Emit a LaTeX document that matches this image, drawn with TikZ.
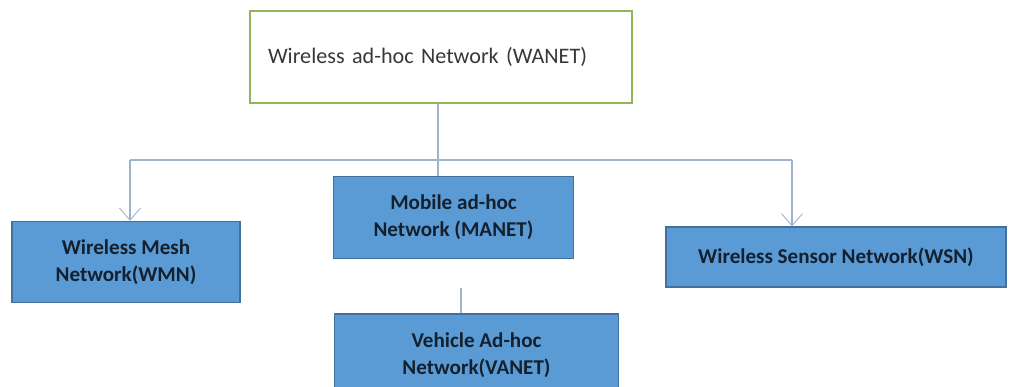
\documentclass[tikz,border=0pt]{standalone}
\usepackage{fontspec}
\setmainfont{Carlito}
\usepackage{tikz}
\usetikzlibrary{arrows.meta,positioning}

\definecolor{rootline}{HTML}{92B55A}
\definecolor{leaffill}{HTML}{5B9BD5}
\definecolor{leafline}{HTML}{41719C}
\definecolor{leaftext}{HTML}{14202E}
\definecolor{linkline}{HTML}{9FB3CC}

\begin{document}
\begin{tikzpicture}[
  x=0.02cm, y=-0.02cm,
  font=\fontsize{12}{15.5}\selectfont,
  >={Straight Barb[length=2.4mm, width=4.2mm, line width=0.5pt]},
  % top box: plain white with green frame
  root/.style={
    draw=rootline, line width=1pt, fill=white,
    text=black!78, font=\fontsize{12.6}{15.5}\selectfont,
    minimum width=7.64cm, minimum height=1.84cm,
    text width=6.92cm, align=left,
    inner sep=0pt
  },
  % blue boxes underneath
  leaf/.style={
    draw=leafline, line width=0.8pt, fill=leaffill,
    text=leaftext, font=\fontsize{12}{15.5}\selectfont\bfseries,
    align=center, inner sep=2pt
  },
  link/.style={draw=linkline, line width=0.7pt}
]

\useasboundingbox (0,0) rectangle (1010,386);

% Root
\node[root] (wanet) at (441,57) {Wireless ad-hoc Network (WANET)};

% Second row
\node[leaf, minimum width=4.8cm, minimum height=1.64cm] (manet) at (453.5,217.5)
  {Mobile ad-hoc\\Network (MANET)};
\node[leaf, minimum width=4.56cm, minimum height=1.62cm] (wmn) at (126,262)
  {Wireless Mesh\\Network(WMN)};
\node[leaf, minimum width=6.8cm, minimum height=1.2cm] (wsn) at (836,257)
  {Wireless Sensor Network(WSN)};

% Third row, hanging below MANET
\node[leaf, minimum width=5.68cm, minimum height=1.66cm,
      below=1.08cm of manet.south west, anchor=north west, xshift=0.02cm] (vanet)
  {Vehicle Ad-hoc\\Network(VANET)};

% Branch points
\coordinate (split) at (438,160);
\coordinate (wmntip) at (130,160);
\coordinate (wsntip) at (792,160);
\coordinate (stub) at (461,288);

% Edges
\draw[link] (wanet.south -| split) -- (manet.north -| split);
\draw[link] (wmntip) -- (wsntip);
\draw[link,->] (wmntip) -- (wmn.north -| wmntip);
\draw[link,->] (wsntip) -- (wsn.north -| wsntip);
\draw[link] (stub) -- (vanet.north -| stub);

\end{tikzpicture}
\end{document}
